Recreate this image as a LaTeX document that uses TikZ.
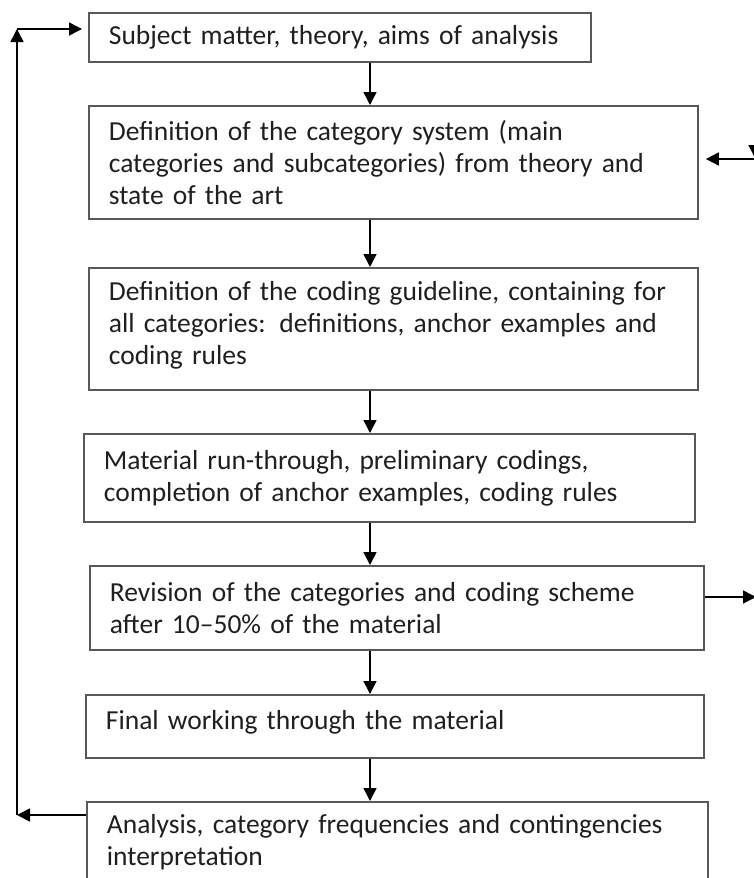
\documentclass[tikz,border=0pt]{standalone}
\usepackage{fontspec}
\setmainfont{Carlito}
\usetikzlibrary{arrows.meta}
\begin{document}
\begin{tikzpicture}[x=1pt,y=-1pt,
  box/.style={draw=black!65, line width=1.8pt, anchor=north west, align=left,
    inner xsep=20pt, inner ysep=0pt, font=\fontsize{27.5}{32}\selectfont, text=black!88},
  arr/.style={line width=1.5pt, -{Triangle[length=13pt,width=13pt]}},
  ln/.style={line width=1.5pt}]
\useasboundingbox (0,0) rectangle (753,878);
\node[box, minimum width=502pt, minimum height=49pt, text width=462pt] (b1) at (88,12) {Subject matter, theory, aims of analysis};
\node[box, minimum width=609pt, minimum height=113pt, text width=569pt] (b2) at (88,105) {Definition of the category system (main\\categories and subcategories) from theory and\\state of the art};
\node[box, minimum width=609pt, minimum height=122pt, text width=569pt] (b3) at (88,267) {Definition of the coding guideline, containing for\\all categories: definitions, anchor examples and\\coding rules\\[-20pt]\mbox{}};
\node[box, minimum width=611pt, minimum height=88pt, text width=571pt] (b4) at (83,433) {Material run-through, preliminary codings,\\completion of anchor examples, coding rules};
\node[box, minimum width=614pt, minimum height=84pt, text width=574pt] (b5) at (89,565) {Revision of the categories and coding scheme\\after 10--50\% of the material};
\node[box, minimum width=618pt, minimum height=63pt, text width=578pt] (b6) at (85,694) {Final working through the material\\[-20pt]\mbox{}};
\node[box, minimum width=621pt, minimum height=80pt, text width=581pt] (b7) at (86,801) {Analysis, category frequencies and contingencies\\interpretation};
\coordinate (cx) at (370,0);
\draw[arr] (b1.south -| cx) -- (b2.north -| cx);
\draw[arr] (b2.south -| cx) -- (b3.north -| cx);
\draw[arr] (b3.south -| cx) -- (b4.north -| cx);
\draw[arr] (b4.south -| cx) -- (b5.north -| cx);
\draw[arr] (b5.south -| cx) -- (b6.north -| cx);
\draw[arr] (b6.south -| cx) -- (b7.north -| cx);
% left feedback loop
\coordinate (lb) at (17,815);
\coordinate (lt) at (17,29);
\draw[arr] (b7.west |- lb) -- (lb);
\draw[arr] (lb) -- (lt);
\draw[arr] (lt) -- ([xshift=-6pt]b1.west |- lt);
% right feedback loop (cropped)
\coordinate (rb) at (756,597);
\coordinate (rt) at (755,158);
\coordinate (rtin) at (760,159);
\draw[arr] (b5.east |- rb) -- (rb);
\draw[arr] ([yshift=30pt]rt) -- (rt);
\draw[arr] (rtin) -- ([xshift=7pt]b2.east |- rtin);
\end{tikzpicture}
\end{document}
